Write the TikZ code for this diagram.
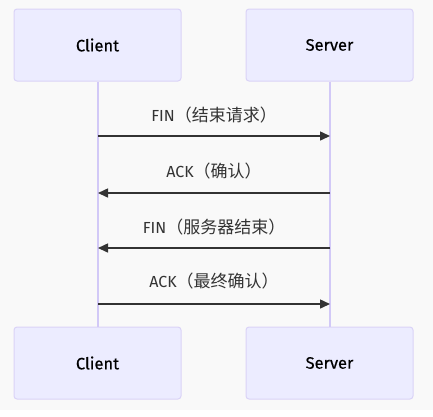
\documentclass[tikz,border=0pt]{standalone}
\usepackage{fontspec}
\setmainfont{Fira Sans}
\newfontfamily\cjk{Noto Sans CJK SC}
\usetikzlibrary{arrows.meta}
\definecolor{bg}{HTML}{F9F9F9}
\definecolor{boxfill}{HTML}{ECECFF}
\definecolor{boxline}{HTML}{DAD3F7}
\definecolor{lifeline}{HTML}{D2C9F7}
\definecolor{msg}{HTML}{333333}
\begin{document}
\begin{tikzpicture}[x=1pt,y=-1pt,
  actor/.style={draw=boxline,fill=boxfill,rounded corners=3pt,line width=1pt,minimum width=167pt,minimum height=72pt,font=\fontsize{16.5}{19}\selectfont\addfontfeature{FakeBold=0.4},text=black,inner sep=0pt},
  life/.style={draw=lifeline,line width=2pt},
  msgline/.style={draw=msg,line width=1.5pt,-{Triangle[length=10pt,width=9pt]}},
  lbl/.style={font=\fontsize{16}{19}\selectfont,text=msg,inner sep=0pt}]
\fill[bg] (0,0) rectangle (433,410);
\fill[white] (0,410) rectangle (433,416);
\useasboundingbox (0,0) rectangle (433,416);
\node[actor] (ct) at (97.5,45) {Client};
\node[actor] (st) at (329.5,45) {Server};
\node[actor] (cb) at (97.5,363) {Client};
\node[actor] (sb) at (329.5,363) {Server};
\draw[life] (ct.south) -- (cb.north);
\draw[life] (st.south) -- (sb.north);
\coordinate (c1) at (98,136); \coordinate (s1) at (330,136);
\coordinate (c2) at (98,193); \coordinate (s2) at (330,193);
\coordinate (c3) at (98,248); \coordinate (s3) at (330,248);
\coordinate (c4) at (98,304); \coordinate (s4) at (330,304);
\draw[msgline] (c1) -- (s1);
\draw[msgline] (s2) -- (c2);
\draw[msgline] (s3) -- (c3);
\draw[msgline] (c4) -- (s4);
\node[lbl] (l1) at (214,115) {FIN{\cjk\fontsize{17}{19}\selectfont（结束请求）}};
\node[lbl] (l2) at (214,171) {ACK{\cjk\fontsize{17}{19}\selectfont（确认）}};
\node[lbl] (l3) at (214,227) {FIN{\cjk\fontsize{17}{19}\selectfont（服务器结束）}};
\node[lbl] (l4) at (214,281) {ACK{\cjk\fontsize{17}{19}\selectfont（最终确认）}};
\end{tikzpicture}
\end{document}
